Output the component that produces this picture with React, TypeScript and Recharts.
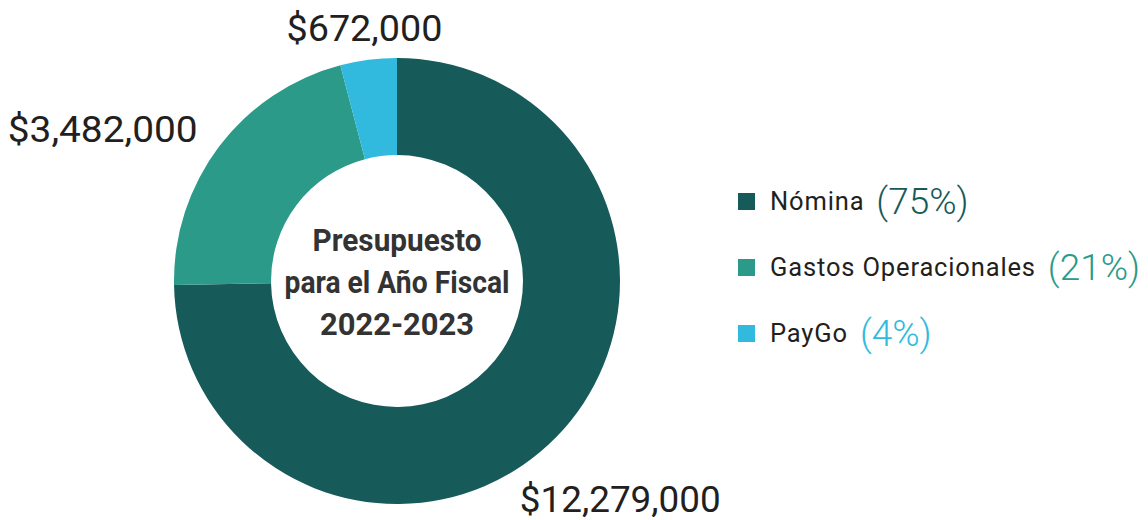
import React from "react";
import { PieChart, Pie, Cell, Legend } from "recharts";

const categories = ["Nómina", "Gastos Operacionales", "PayGo"];
const amounts = [12279000, 3482000, 672000];
const amountLabels = ["$12,279,000", "$3,482,000", "$672,000"];
const colors = ["#175A5A", "#2B9A89", "#31BADE"];
const centerLines = ["Presupuesto", "para el Año Fiscal", "2022-2023"];

const total = amounts.reduce((a, b) => a + b, 0);
const data = categories.map((name, i) => ({
  name,
  value: amounts[i],
  pct: Math.round((amounts[i] / total) * 100),
}));

const labelCfg = [
  { extra: 90, anchor: "middle" },
  { extra: 27, anchor: "end" },
  { extra: 31, anchor: "middle" },
];

const FONT = "Roboto, 'Noto Sans', sans-serif";
const centerWidths = [169, 225, 154];

const renderLabel = (props: any) => {
  const { cx, cy, midAngle, outerRadius, index } = props;
  const cfg = labelCfg[index];
  const r = outerRadius + cfg.extra;
  const rad = (-midAngle * Math.PI) / 180;
  const x = cx + r * Math.cos(rad);
  const y = cy + r * Math.sin(rad);
  return (
    <g>
      <text
        x={x}
        y={y + 12}
        textAnchor={cfg.anchor}
        fill="#231F20"
        fontFamily={FONT}
        fontSize={36}
        fontWeight={400}
        textLength={index === 0 ? 201 : index === 1 ? 190 : 156}
        lengthAdjust="spacingAndGlyphs"
      >
        {amountLabels[index]}
      </text>
      {index === 0 &&
        centerLines.map((t, i) => (
          <text
            key={i}
            x={cx}
            y={cy - 30 + i * 42}
            textAnchor="middle"
            fill="#333333"
            fontFamily={FONT}
            fontWeight={700}
            fontSize={32}
            textLength={centerWidths[i]}
            lengthAdjust="spacingAndGlyphs"
          >
            {t}
          </text>
        ))}
    </g>
  );
};

const renderLegend = () => {
  return (
    <div style={{ fontFamily: FONT }}>
      {data.map((d, i) => {
        const c = colors[i];
        return (
          <div
            key={d.name}
            style={{
              display: "flex",
              alignItems: "center",
              height: 66,
              whiteSpace: "nowrap",
            }}
          >
            <span
              style={{
                display: "inline-block",
                width: 17,
                height: 17,
                background: c,
                marginRight: 15,
              }}
            />
            <span style={{ fontSize: 25.5, color: "#231F20", letterSpacing: 0.85 }}>{d.name}</span>
            <span
              style={{
                fontSize: 37,
                fontWeight: 300,
                color: c,
                marginLeft: 12,
              }}
            >
              ({d.pct}%)
            </span>
          </div>
        );
      })}
    </div>
  );
};

export default function App() {
  return (
    <div style={{ position: "absolute", left: 0, top: 0, background: "#fff" }}>
      <PieChart width={1148} height={520} margin={{ top: 0, right: 0, bottom: 0, left: 0 }}>
        <Pie
          data={data}
          dataKey="value"
          nameKey="name"
          cx={397}
          cy={281}
          innerRadius={126}
          outerRadius={223}
          startAngle={90}
          endAngle={-270}
          stroke="none"
          label={renderLabel}
          labelLine={false}
          isAnimationActive={false}
        >
          {data.map((d, i) => (
            <Cell key={d.name} fill={colors[i]} />
          ))}
        </Pie>
        <Legend
          layout="vertical"
          content={renderLegend}
          wrapperStyle={{ position: "absolute", left: 738, top: 168, width: 410 }}
        />
      </PieChart>
    </div>
  );
}
